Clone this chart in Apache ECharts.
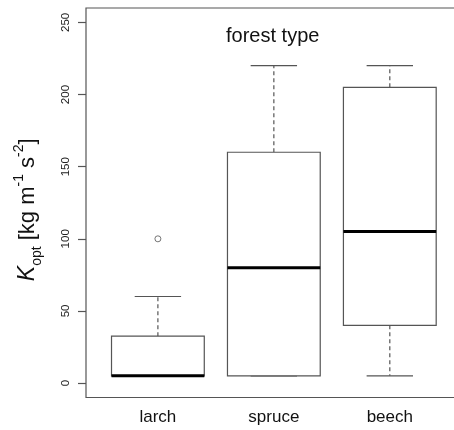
<!DOCTYPE html>
<html>
<head>
<meta charset="utf-8">
<script src="https://cdn.jsdelivr.net/npm/echarts@6/dist/echarts.min.js"></script>
<style>html,body{margin:0;padding:0;background:#fff}#c{width:454px;height:430px}</style>
</head>
<body>
<div id="c"></div>
<script>
const categories = ['larch', 'spruce', 'beech'];
const whiskerLow = [5, 5, 5];
const q1 = [5, 5, 40];
const medians = [5, 80, 105];
const q3 = [32.5, 160, 205];
const whiskerHigh = [60, 220, 220];
const outlierCategory = [0];
const outlierValue = [100];
const yTicks = [0, 50, 100, 150, 200, 250];
const titleText = 'forest type';

const boxData = categories.map((c, i) => [i + 1, whiskerLow[i], q1[i], medians[i], q3[i], whiskerHigh[i]]);
const outData = outlierCategory.map((ci, k) => [ci + 1, outlierValue[k]]);

const lineColor = '#555';
const chart = echarts.init(document.getElementById('c'), null, {renderer: 'canvas'});
chart.setOption({
  animation: false,
  backgroundColor: '#fff',
  grid: {left: 86, width: 375.7, top: 8, height: 389.5, show: true, borderColor: lineColor, borderWidth: 1.2,
         backgroundColor: 'transparent', containLabel: false, outerBoundsMode: 'none'},
  graphic: [{
    type: 'text', left: 226, top: 26,
    style: {text: titleText, fontSize: 20, fontFamily: 'Liberation Sans', fill: '#111'}
  }],
  xAxis: {
    type: 'value', min: 0.38, max: 3.62,
    axisLine: {show: false}, axisTick: {show: false}, splitLine: {show: false},
    axisLabel: {
      customValues: [1, 2, 3],
      formatter: v => categories[Math.round(v) - 1] || '',
      fontSize: 17, fontFamily: 'Liberation Sans', color: '#111', margin: 11
    }
  },
  yAxis: {
    type: 'value', min: -10, max: 260,
    axisLine: {show: false}, splitLine: {show: false},
    axisTick: {show: true, customValues: yTicks, length: 8, lineStyle: {color: lineColor, width: 1.2}},
    axisLabel: {customValues: yTicks, rotate: 90, fontSize: 11.5, fontFamily: 'Liberation Sans', color: '#222', margin: 14},
    name: '{k|K}{sub|opt}{n| [kg m}{sup|-1}{n| s}{sup|-2}{n|]}',
    nameLocation: 'middle', nameGap: 42, nameRotate: 90,
    nameTextStyle: {
      fontFamily: 'Liberation Sans', color: '#111', padding: [0, 14, 0, 0],
      rich: {
        k: {fontSize: 23, fontStyle: 'italic', fontFamily: 'Liberation Sans', lineHeight: 32, color: '#111'},
        n: {fontSize: 22, fontFamily: 'Liberation Sans', lineHeight: 32, color: '#111'},
        sub: {fontSize: 14, fontFamily: 'Liberation Sans', lineHeight: 15, verticalAlign: 'bottom', color: '#111'},
        sup: {fontSize: 14, fontFamily: 'Liberation Sans', lineHeight: 15, verticalAlign: 'top', color: '#111'}
      }
    }
  },
  series: [{
    type: 'custom',
    data: boxData,
    encode: {x: 0, y: [1, 2, 3, 4, 5]},
    renderItem: function (params, api) {
      const x = api.value(0);
      const w = api.size([0.8, 0])[0];
      const cw = w / 2;
      const pLo = api.coord([x, api.value(1)]);
      const pQ1 = api.coord([x, api.value(2)]);
      const pMed = api.coord([x, api.value(3)]);
      const pQ3 = api.coord([x, api.value(4)]);
      const pHi = api.coord([x, api.value(5)]);
      const cx = pMed[0];
      const dash = {stroke: lineColor, lineWidth: 1.2, lineDash: [4, 3]};
      const solid = {stroke: lineColor, lineWidth: 1.2};
      return {
        type: 'group',
        children: [
          {type: 'line', shape: {x1: cx, y1: pQ3[1], x2: cx, y2: pHi[1]}, style: dash},
          {type: 'line', shape: {x1: cx, y1: pQ1[1], x2: cx, y2: pLo[1]}, style: dash},
          {type: 'line', shape: {x1: cx - cw / 2, y1: pHi[1], x2: cx + cw / 2, y2: pHi[1]}, style: solid},
          {type: 'line', shape: {x1: cx - cw / 2, y1: pLo[1], x2: cx + cw / 2, y2: pLo[1]}, style: solid},
          {type: 'rect', shape: {x: cx - w / 2, y: pQ3[1], width: w, height: pQ1[1] - pQ3[1]}, style: {fill: '#fff', stroke: lineColor, lineWidth: 1.2}},
          {type: 'line', shape: {x1: cx - w / 2, y1: pMed[1], x2: cx + w / 2, y2: pMed[1]}, style: {stroke: '#000', lineWidth: 3}}
        ]
      };
    }
  }, {
    type: 'scatter',
    data: outData,
    symbol: 'circle', symbolSize: 6,
    itemStyle: {color: '#fff', borderColor: lineColor, borderWidth: 1}
  }]
});
</script>
</body>
</html>
